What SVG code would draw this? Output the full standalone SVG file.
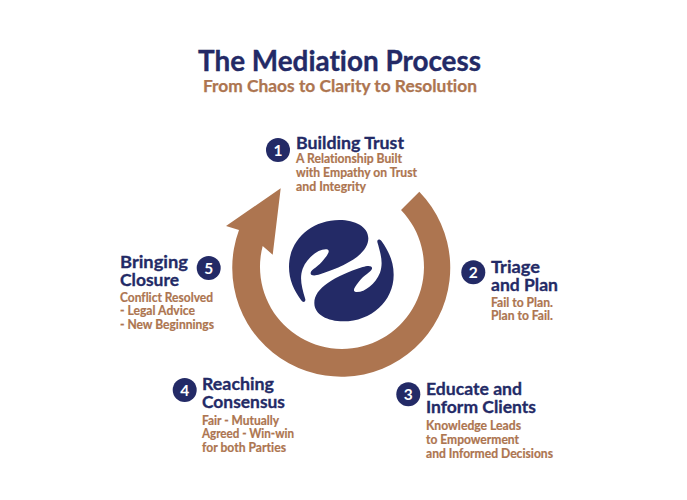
<svg xmlns="http://www.w3.org/2000/svg" xmlns:xlink="http://www.w3.org/1999/xlink" width="687" height="500" viewBox="0 0 687 500">
<style>
text{font-family:Lato,"Open Sans","Liberation Sans",sans-serif;font-weight:700;font-variant-ligatures:none}
.t{fill:#232a66;stroke:#232a66;stroke-width:.35px;font-size:28px}
.s{fill:#ad7550;stroke:#ad7550;stroke-width:.25px;font-size:17px}
.h{fill:#232a66;stroke:#232a66;stroke-width:.3px;font-size:17.500px}
.d{fill:#ad7550;stroke:#ad7550;stroke-width:.2px;font-size:12.300px}
.b{fill:#232a66}
.n{fill:#fff;font-size:15.500px;text-anchor:middle}
</style>
<defs><path id="hand" d="M358 150C405 150 445 170 445 205C445 250 385 285 300 313C285 318 270 318 272 308C275 298 296 290 312 268C325 252 332 240 320 238C295 236 262 262 248 296C238 325 245 350 256 388C257 398 248 398 243 390C222 360 207 330 207 290C207 210 275 150 358 150Z"/></defs>
<rect width="687" height="500" fill="#fff"/>
<text class="t" x="198" y="71" textLength="283" lengthAdjust="spacingAndGlyphs">The Mediation Process</text>
<text class="s" x="203" y="92" textLength="274" lengthAdjust="spacingAndGlyphs">From Chaos to Clarity to Resolution</text>
<g id="connectors">
<path id="cycle-arrow" fill="#ad7550" d="M419.300 191.700A109 109 0 1 1 239 230L226 226L280.700 188.300L272.700 254.700L262.700 246A82 82 0 1 0 401 210Z"/>
</g>
<g id="logo" class="b" transform="translate(220 170) scale(.33333)">
<use xlink:href="#hand" href="#hand"/>
<use xlink:href="#hand" href="#hand" transform="rotate(180 364 302)"/>
</g>
<g id="node-1">
<circle class="b" cx="278" cy="150" r="12"/><text class="n" x="278" y="155.500">1</text>
<text class="h" x="296" y="149" textLength="108" lengthAdjust="spacingAndGlyphs">Building Trust</text>
<text class="d" x="296" y="162.500" textLength="106" lengthAdjust="spacingAndGlyphs">A Relationship Built</text>
<text class="d" x="296" y="176.500" textLength="121" lengthAdjust="spacingAndGlyphs">with Empathy on Trust</text>
<text class="d" x="296" y="190.500" textLength="70" lengthAdjust="spacingAndGlyphs">and Integrity</text>
</g>
<g id="node-2">
<circle class="b" cx="473.300" cy="272.300" r="12"/><text class="n" x="473.300" y="277.800">2</text>
<text class="h" x="491" y="272.500" textLength="49" lengthAdjust="spacingAndGlyphs">Triage</text>
<text class="h" x="491" y="291" textLength="67" lengthAdjust="spacingAndGlyphs">and Plan</text>
<text class="d" x="491" y="307" textLength="62" lengthAdjust="spacingAndGlyphs">Fail to Plan.</text>
<text class="d" x="491" y="320" textLength="62" lengthAdjust="spacingAndGlyphs">Plan to Fail.</text>
</g>
<g id="node-3">
<circle class="b" cx="408.300" cy="394.300" r="12"/><text class="n" x="408.300" y="399.800">3</text>
<text class="h" x="426" y="395" textLength="96" lengthAdjust="spacingAndGlyphs">Educate and</text>
<text class="h" x="426" y="413" textLength="110" lengthAdjust="spacingAndGlyphs">Inform Clients</text>
<text class="d" x="426" y="430" textLength="95" lengthAdjust="spacingAndGlyphs">Knowledge Leads</text>
<text class="d" x="426" y="444" textLength="93" lengthAdjust="spacingAndGlyphs">to Empowerment</text>
<text class="d" x="426" y="458" textLength="127" lengthAdjust="spacingAndGlyphs">and Informed Decisions</text>
</g>
<g id="node-4">
<circle class="b" cx="184.700" cy="390" r="12"/><text class="n" x="184.700" y="395.500">4</text>
<text class="h" x="202" y="389.500" textLength="72" lengthAdjust="spacingAndGlyphs">Reaching</text>
<text class="h" x="202" y="408" textLength="83" lengthAdjust="spacingAndGlyphs">Consensus</text>
<text class="d" x="202" y="424.500" textLength="77" lengthAdjust="spacingAndGlyphs">Fair - Mutually</text>
<text class="d" x="202" y="438" textLength="92" lengthAdjust="spacingAndGlyphs">Agreed - Win-win</text>
<text class="d" x="202" y="451.500" textLength="84" lengthAdjust="spacingAndGlyphs">for both Parties</text>
</g>
<g id="node-5">
<circle class="b" cx="208.700" cy="268" r="12"/><text class="n" x="208.700" y="273.500">5</text>
<text class="h" x="120" y="268" textLength="68" lengthAdjust="spacingAndGlyphs">Bringing</text>
<text class="h" x="120" y="286" textLength="59" lengthAdjust="spacingAndGlyphs">Closure</text>
<text class="d" x="120" y="301.500" textLength="93" lengthAdjust="spacingAndGlyphs">Conflict Resolved</text>
<text class="d" x="120" y="314.500" textLength="75" lengthAdjust="spacingAndGlyphs">- Legal Advice</text>
<text class="d" x="120" y="328.500" textLength="94" lengthAdjust="spacingAndGlyphs">- New Beginnings</text>
</g>
</svg>
